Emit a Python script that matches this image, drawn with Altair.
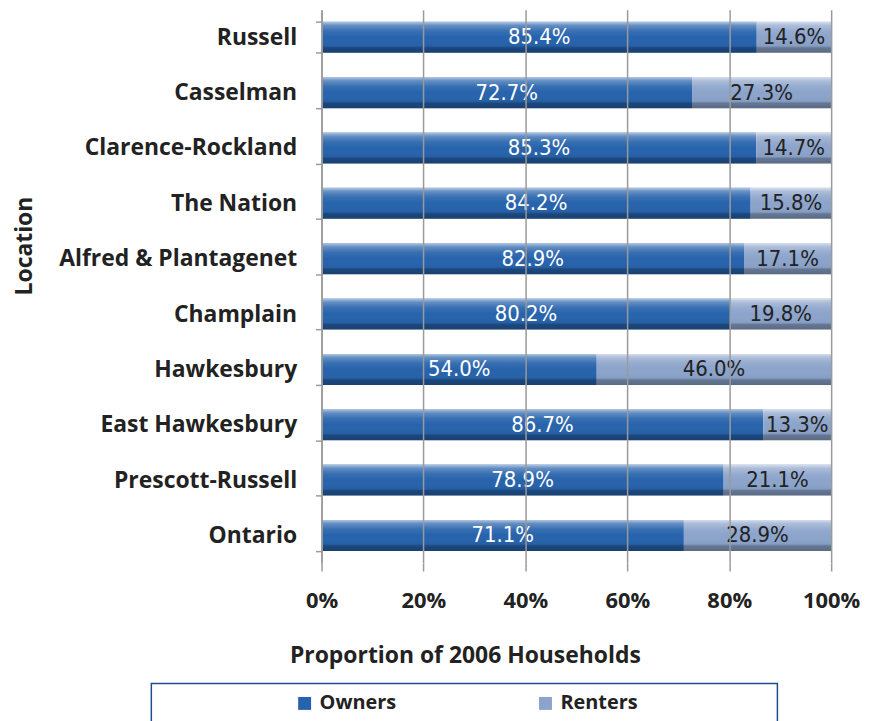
import altair as alt
import pandas as pd

locations = ["Russell", "Casselman", "Clarence-Rockland", "The Nation",
             "Alfred & Plantagenet", "Champlain", "Hawkesbury",
             "East Hawkesbury", "Prescott-Russell", "Ontario"]
owners = [85.4, 72.7, 85.3, 84.2, 82.9, 80.2, 54.0, 86.7, 78.9, 71.1]
renters = [14.6, 27.3, 14.7, 15.8, 17.1, 19.8, 46.0, 13.3, 21.1, 28.9]
series = ["Owners", "Renters"]
tick_values = [0, 20, 40, 60, 80, 100]

rows = []
for loc, o, r in zip(locations, owners, renters):
    rows.append({"Location": loc, "Tenure": "Owners", "Value": o, "ord": 0})
    rows.append({"Location": loc, "Tenure": "Renters", "Value": r, "ord": 1})
df = pd.DataFrame(rows)

FONT = "Open Sans"
NUMFONT = "'Liberation Sans Narrow', 'DejaVu Sans Condensed', 'Arial Narrow', Roboto, sans-serif"
GRAY = "#9a9a9a"
INK = "#222222"

y_axis = alt.Axis(
    title="Location", titleFont=FONT, titleFontSize=23, titleFontWeight="bold",
    titleColor=INK, titleX=-286, titleY=237,
    labelFont=FONT, labelFontSize=23, labelFontWeight="bold", labelColor=INK,
    labelPadding=19, labelLimit=300, tickBand="extent", tickSize=6, tickColor=GRAY,
    domainColor=GRAY, domainWidth=1.5, tickWidth=1.5, grid=False, zindex=1,
)
y_enc = alt.Y("Location:N", sort=locations,
              scale=alt.Scale(paddingInner=0.44, paddingOuter=0.22), axis=y_axis)

x_axis = alt.Axis(
    values=tick_values, labelExpr="datum.value + '%'", labelFlush=False,
    labelFont=FONT, labelFontSize=22, labelFontWeight="bold", labelColor=INK,
    labelPadding=20, tickSize=8, tickColor=GRAY, tickWidth=1.5,
    grid=True, gridColor=GRAY, gridWidth=1.5, domain=False, zindex=1,
    title="Proportion of 2006 Households", titleFont=FONT, titleFontSize=23,
    titleFontWeight="bold", titleColor=INK, titleX=144, titleY=93,
    titleBaseline="middle",
)
x_scale = alt.Scale(domain=[0, 100])

pad = "\u00a0" * 25 + "\u200b"
legend = alt.Legend(
    orient="none", legendX=-171, legendY=677, direction="horizontal",
    title="\u00a0\u200b", titleOrient="left", titlePadding=134,
    strokeColor="#1f4e8c", padding=10, fillColor="white",
    symbolType="square", symbolSize=169, symbolStrokeWidth=0,
    labelFont=FONT, labelFontSize=20, labelFontWeight="bold", labelColor=INK,
    labelOffset=5, columnPadding=139, labelLimit=400,
    labelExpr="datum.label == 'Renters' ? datum.label + '" + pad + "' : datum.label",
)

base = alt.Chart(df)

bars = base.mark_bar().encode(
    x=alt.X("Value:Q", stack="zero", scale=x_scale, axis=x_axis),
    y=y_enc,
    color=alt.Color("Tenure:N", scale=alt.Scale(domain=series, range=["#2763ac", "#8ca4cb"]),
                    legend=legend),
    order=alt.Order("ord:Q"),
)

shine = alt.Gradient(
    gradient="linear", x1=0, x2=0, y1=0, y2=1,
    stops=[
        alt.GradientStop(offset=0, color="rgba(255,255,255,0.65)"),
        alt.GradientStop(offset=0.06, color="rgba(255,255,255,0.45)"),
        alt.GradientStop(offset=0.12, color="rgba(255,255,255,0.28)"),
        alt.GradientStop(offset=0.3, color="rgba(255,255,255,0.08)"),
        alt.GradientStop(offset=0.5, color="rgba(255,255,255,0.0)"),
        alt.GradientStop(offset=0.78, color="rgba(0,0,0,0.04)"),
        alt.GradientStop(offset=0.84, color="rgba(0,0,0,0.28)"),
        alt.GradientStop(offset=1, color="rgba(0,0,0,0.35)"),
    ],
)

overlay = base.transform_aggregate(
    total="sum(Value)", groupby=["Location"]
).mark_bar(fill=shine).encode(
    x=alt.X("total:Q", scale=x_scale, axis=x_axis),
    y=y_enc,
)

labels = base.transform_stack(
    stack="Value", groupby=["Location"], as_=["x0", "x1"], sort=[alt.SortField("ord")]
).transform_calculate(
    mid="(datum.x0 + datum.x1) / 2",
    label="format(datum.Value, '.1f') + '%'",
).mark_text(font=NUMFONT, fontSize=22, baseline="middle", align="center").encode(
    x=alt.X("mid:Q", scale=x_scale, axis=x_axis),
    y=y_enc,
    text="label:N",
    color=alt.condition(alt.datum.Tenure == "Owners", alt.value("white"), alt.value(INK)),
)

chart = alt.layer(bars, overlay, labels).properties(
    width=512, height=556, background="white",
    autosize=alt.AutoSizeParams(type="none"),
    padding={"left": 315, "top": 0, "right": 33, "bottom": 161},
).configure_view(stroke=None).configure_legend(strokeWidth=1.5)

chart.save("out.html", embed_options={"renderer": "svg", "actions": False})
